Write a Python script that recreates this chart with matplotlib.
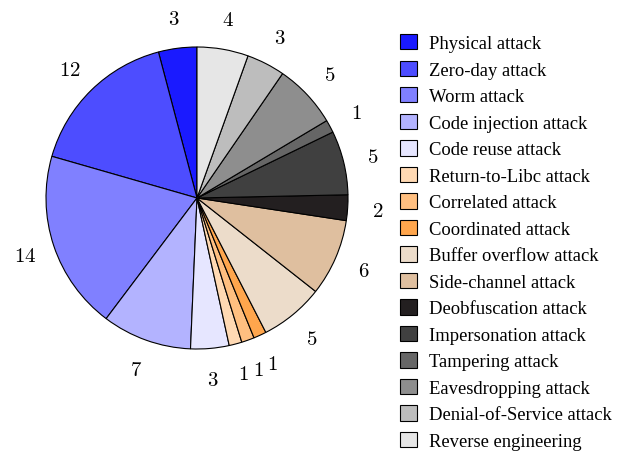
import matplotlib.pyplot as plt
from matplotlib.patches import Patch

categories = ['Physical attack', 'Zero-day attack', 'Worm attack', 'Code injection attack',
              'Code reuse attack', 'Return-to-Libc attack', 'Correlated attack',
              'Coordinated attack', 'Buffer overflow attack', 'Side-channel attack',
              'Deobfuscation attack', 'Impersonation attack', 'Tampering attack',
              'Eavesdropping attack', 'Denial-of-Service attack', 'Reverse engineering']
counts = [3, 12, 14, 7, 3, 1, 1, 1, 5, 6, 2, 5, 1, 5, 3, 4]
colors = ['#1a1aff', '#4d4dff', '#8080ff', '#b3b3ff', '#e6e6ff', '#ffd9b3', '#ffbf80',
          '#ffa64d', '#ecdcca', '#dfbf9f', '#231f20', '#404040', '#666666', '#8e8e8e',
          '#bdbdbd', '#e6e6e6']

plt.rcParams['mathtext.fontset'] = 'cm'

fig = plt.figure(figsize=(6.2, 4.52), dpi=100)
ax = fig.add_axes([46 / 620, (452 - 199 - 151) / 452, 302 / 620, 302 / 452])

ax.pie(counts, colors=colors, startangle=90, counterclock=True,
       labels=['$%d$' % c for c in counts], labeldistance=1.2,
       wedgeprops={'edgecolor': 'black', 'linewidth': 0.8},
       textprops={'fontsize': 15, 'ha': 'center', 'va': 'center'})
ax.set_xlim(-1, 1)
ax.set_ylim(-1, 1)
ax.set_aspect('equal')

handles = [Patch(facecolor=c, edgecolor='black', linewidth=0.8) for c in colors]
fig.legend(handles, categories, loc='upper left', bbox_to_anchor=(400 / 620, 1 - 35 / 452),
           frameon=False, prop={'family': 'Liberation Serif', 'size': 13.4},
           handlelength=0.9, handleheight=0.9, handletextpad=0.65, labelspacing=0.45,
           borderaxespad=0, borderpad=0)

fig.savefig('out.png')
